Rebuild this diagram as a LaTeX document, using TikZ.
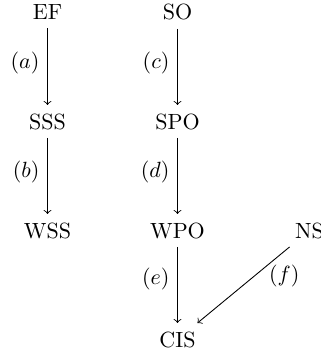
\documentclass[tikz,border=0pt]{standalone}
\begin{document}
\begin{tikzpicture}[x=0.4545pt,y=-0.4545pt,
  cell/.style={anchor=base,inner xsep=1ex,inner ysep=0.85ex},
  arr/.style={->,line width=0.4pt},
  lbl/.style={anchor=east,inner sep=3.5pt,pos=0.45},
  lblr/.style={anchor=west,inner sep=0pt,pos=0.38,xshift=6.4pt}]
\useasboundingbox (0,0) rectangle (320,354);
\node[cell] (EF) at (47.5,20) {EF};
\node[cell] (SSS) at (47.5,129) {SSS};
\node[cell] (WSS) at (47.5,238) {WSS};
\node[cell] (SO) at (177.5,20) {SO};
\node[cell] (SPO) at (177.5,129) {SPO};
\node[cell] (WPO) at (177.5,238) {WPO};
\node[cell] (NS) at (309.5,238) {NS};
\node[cell] (CIS) at (177.5,347) {CIS};
\draw[arr] (EF) -- node[lbl] {$(a)$} (SSS);
\draw[arr] (SSS) -- node[lbl] {$(b)$} (WSS);
\draw[arr] (SO) -- node[lbl] {$(c)$} (SPO);
\draw[arr] (SPO) -- node[lbl] {$(d)$} (WPO);
\draw[arr] (WPO) -- node[lbl,pos=0.42] {$(e)$} (CIS);
\draw[arr] (NS) -- node[lblr] {$(f)$} (CIS);
\end{tikzpicture}
\end{document}
